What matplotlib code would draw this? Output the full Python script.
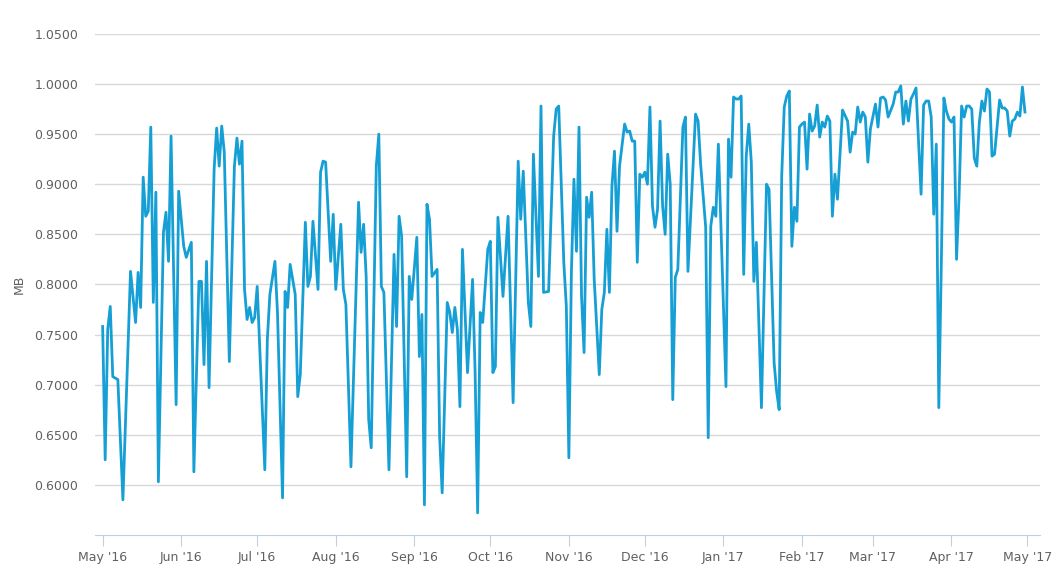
import datetime as dt
import matplotlib
matplotlib.use('Agg')
import matplotlib.pyplot as plt
import matplotlib.dates as mdates

start = dt.date(2016, 5, 1)

days = [0, 1, 2, 3, 4, 6, 8, 11, 13, 14, 15, 16, 17, 18, 19, 20, 21, 22, 24, 25, 26, 27, 29, 30, 32, 33, 35, 36,
        38, 39, 40, 41, 42, 44, 45, 46, 47, 48, 50, 52, 53, 54, 55, 56, 57, 58, 59, 60, 61, 64, 65, 66, 68, 69,
        71, 72, 73, 74, 76, 77, 78, 80, 81, 82, 83, 85, 86, 87, 88, 90, 91, 92, 94,
        95, 96, 98, 101, 102, 103, 104, 105, 106, 108, 109, 110, 111, 113, 115, 116, 117, 118, 120, 121, 122, 124,
        125, 126, 127, 128, 129, 130, 132, 133, 134, 136, 137, 138, 139, 140, 141, 142, 144, 146, 147, 148, 149,
        150, 152, 153, 154, 155, 156, 158, 160, 162, 164, 165, 166, 168, 169, 170, 172, 173, 174, 176, 178, 179,
        180, 182,
        183, 184, 185, 186, 187, 188, 189, 190, 191, 192, 193, 194, 196, 197, 198, 199, 200, 201, 202, 203, 204,
        206, 207, 208, 209, 210, 211, 212, 213, 214, 215, 216, 217, 218, 219, 220, 221, 222, 223, 224, 225, 226,
        227, 229, 230, 231, 232, 234, 235, 236, 238, 239, 240, 241, 242, 243, 246, 247, 248, 249, 250, 251, 252,
        253, 254, 255, 256, 257, 258, 260, 262, 263, 265, 266, 267, 268, 269, 270, 271, 272, 273, 274, 275, 276,
        277, 278, 279, 280,
        281, 282, 283, 284, 285, 286, 287, 288, 289, 290, 292, 294, 295, 296, 297, 298, 299, 300, 301, 302, 303,
        305, 306, 307, 308, 309, 310, 312, 313, 314, 315, 316, 317, 318, 319, 320, 321, 323, 324, 325, 326, 327,
        328, 329, 330, 331, 332, 333, 334, 335, 336, 337, 338, 339, 340, 341, 342, 343, 344, 345, 346, 347, 348,
        349, 350, 351, 352, 354, 355, 356, 357, 358, 359, 360, 361, 362, 363, 364]

mb = [0.758, 0.625, 0.755, 0.778, 0.708, 0.705, 0.585, 0.813, 0.762, 0.812, 0.777, 0.907, 0.868, 0.873, 0.957,
      0.782, 0.892, 0.603, 0.852, 0.872, 0.823, 0.948, 0.680, 0.893, 0.838, 0.827, 0.842, 0.613, 0.803, 0.803,
      0.720, 0.823, 0.697, 0.915, 0.956, 0.918, 0.958, 0.932, 0.723, 0.918, 0.946, 0.920, 0.943, 0.795, 0.765,
      0.777, 0.762, 0.767, 0.798, 0.615, 0.745, 0.790, 0.823, 0.772, 0.587, 0.793, 0.777, 0.820, 0.790, 0.688,
      0.710, 0.862, 0.798, 0.808, 0.863, 0.795, 0.912, 0.923, 0.922, 0.823, 0.870, 0.795, 0.860,
      0.795, 0.780, 0.618, 0.882, 0.832, 0.860, 0.808, 0.665, 0.637, 0.918, 0.950, 0.798, 0.792, 0.615, 0.830,
      0.758, 0.868, 0.848, 0.608, 0.808, 0.785, 0.847, 0.728, 0.770, 0.580, 0.880, 0.865, 0.808, 0.815, 0.648,
      0.592, 0.782, 0.772, 0.752, 0.777, 0.755, 0.678, 0.835, 0.712, 0.805, 0.712, 0.572, 0.772, 0.762, 0.835,
      0.843, 0.712, 0.718, 0.867, 0.788, 0.868, 0.682, 0.923, 0.865, 0.913, 0.782, 0.758, 0.930, 0.808, 0.978,
      0.792, 0.793, 0.948, 0.975, 0.978, 0.822,
      0.778, 0.627, 0.812, 0.905, 0.833, 0.957, 0.788, 0.732, 0.887, 0.867, 0.892, 0.805, 0.710, 0.775, 0.792,
      0.855, 0.792, 0.898, 0.933, 0.853, 0.918, 0.960, 0.952, 0.953, 0.943, 0.943, 0.822, 0.910, 0.907, 0.912,
      0.900, 0.977, 0.878, 0.857, 0.875, 0.963, 0.878, 0.850, 0.930, 0.900, 0.685, 0.807, 0.815, 0.957, 0.967,
      0.813, 0.865, 0.970, 0.963, 0.920, 0.857, 0.647, 0.858, 0.877, 0.868, 0.940, 0.698, 0.945, 0.907, 0.987,
      0.985, 0.985, 0.988, 0.810, 0.928, 0.960, 0.922, 0.803, 0.842, 0.677, 0.900, 0.895, 0.722, 0.693, 0.675,
      0.908, 0.977, 0.988, 0.993, 0.838, 0.877, 0.863, 0.957, 0.960, 0.962, 0.915, 0.970, 0.953,
      0.958, 0.979, 0.947, 0.962, 0.957, 0.968, 0.963, 0.868, 0.910, 0.885, 0.974, 0.963, 0.932, 0.952, 0.950,
      0.977, 0.962, 0.972, 0.967, 0.922, 0.955, 0.980, 0.957, 0.986, 0.987, 0.984, 0.967, 0.980, 0.992, 0.992,
      0.998, 0.960, 0.983, 0.963, 0.985, 0.990, 0.996, 0.890, 0.979, 0.983, 0.983, 0.967, 0.870, 0.940, 0.677,
      0.822, 0.986, 0.973, 0.965, 0.962, 0.967, 0.825, 0.888, 0.978, 0.967, 0.978, 0.978, 0.975, 0.926, 0.918,
      0.962, 0.983, 0.973, 0.995, 0.992, 0.928, 0.930, 0.984, 0.976, 0.976, 0.973, 0.948, 0.963, 0.965, 0.972,
      0.968, 0.997, 0.972]

dates = [start + dt.timedelta(days=d) for d in days]
tick_dates = [dt.date(2016 + (m > 12), (m - 1) % 12 + 1, 1) for m in range(5, 18)]

fig = plt.figure(figsize=(10.56, 5.84), dpi=100)
ax = fig.add_axes([0.09, 0.084, 0.895, 0.858])
ax.plot(dates, mb, color='#159fd5', linewidth=2)

ax.set_ylim(0.55, 1.05)
ax.set_yticks([0.60 + 0.05 * i for i in range(10)])
ax.yaxis.set_major_formatter(plt.FuncFormatter(lambda v, p: '%.4f' % v))
ax.set_xlim(start - dt.timedelta(days=3), start + dt.timedelta(days=370))
ax.set_xticks(tick_dates)
ax.xaxis.set_major_formatter(mdates.DateFormatter("%b '%y"))

ax.grid(axis='y', color='#d8d8d8', linewidth=1)
ax.set_axisbelow(True)
for s in ['top', 'right', 'left']:
    ax.spines[s].set_visible(False)
ax.spines['bottom'].set_color('#c0d0e0')
ax.tick_params(axis='y', length=0, labelsize=9, colors='#606060', pad=12)
ax.tick_params(axis='x', length=8, color='#c0d0e0', labelsize=9, colors='#606060')
ax.set_ylabel('MB', color='#606060', fontsize=9, labelpad=6)

fig.savefig('out.png')
